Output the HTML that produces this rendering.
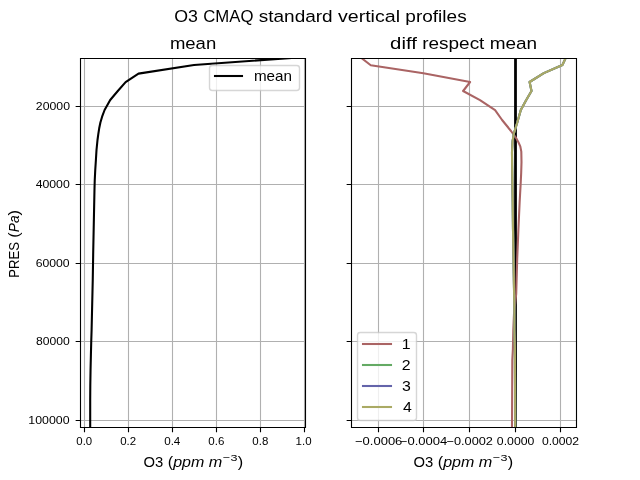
<!DOCTYPE html><html><head><meta charset="utf-8"><style>html,body{margin:0;padding:0;background:#fff;width:640px;height:480px;overflow:hidden;position:relative}</style></head><body><svg width="640" height="480" viewBox="0 0 640 480" style="position:absolute;left:0;top:0;will-change:transform;font-family:'Liberation Sans',sans-serif" fill="#000">
<rect width="640" height="480" fill="#fff"/>
<defs>
<clipPath id="c0"><rect x="80" y="58" width="226" height="370"/></clipPath>
<clipPath id="c1"><rect x="351" y="58" width="226" height="370"/></clipPath>
</defs>
<path d="M84.5,57.6V427.2M128.5,57.6V427.2M172.5,57.6V427.2M216.5,57.6V427.2M260.5,57.6V427.2M304.5,57.6V427.2M80.0,106.5H305.4545M80.0,184.5H305.4545M80.0,263.5H305.4545M80.0,341.5H305.4545M80.0,420.5H305.4545" stroke="#b0b0b0" stroke-width="1.111" fill="none" stroke-linecap="square" clip-path="url(#c0)"/>
<path d="M378.5,57.6V427.2M423.5,57.6V427.2M469.5,57.6V427.2M515.5,57.6V427.2M560.5,57.6V427.2M350.5455,106.5H576.0M350.5455,184.5H576.0M350.5455,263.5H576.0M350.5455,341.5H576.0M350.5455,420.5H576.0" stroke="#b0b0b0" stroke-width="1.111" fill="none" stroke-linecap="square" clip-path="url(#c1)"/>
<polyline points="295.20,57.60 194.00,65.00 138.50,73.60 125.60,82.10 117.80,91.00 110.20,100.00 104.60,110.00 102.10,116.70 100.40,122.50 99.20,128.30 98.30,134.20 97.50,140.00 96.50,150.00 95.90,160.00 95.25,170.00 94.75,180.00 94.50,188.75 93.25,250.00 92.75,280.00 91.60,330.00 91.25,341.00 90.90,355.00 90.55,370.00 90.30,385.00 90.20,400.00 90.20,427.20" fill="none" stroke="#000" stroke-width="2.083" stroke-linejoin="round" stroke-linecap="square" clip-path="url(#c0)"/>
<path d="M515.5,57.6V427.2" stroke="#000" stroke-width="2.778" stroke-linecap="square" clip-path="url(#c1)"/>
<polyline points="360.90,57.60 370.75,65.20 423.40,73.20 470.10,82.00 463.10,91.00 480.00,100.20 495.10,110.20 502.10,120.00 511.00,131.00 516.00,137.80 518.40,142.20 520.30,146.40 521.30,151.60 521.50,162.00 521.20,172.50 520.70,183.00 519.70,201.00 518.40,229.50 517.20,259.00 516.20,294.00 514.00,314.00 513.30,330.00 512.90,349.00 512.30,360.00 512.00,427.20" fill="none" stroke="#aa6464" stroke-width="2.083" stroke-linejoin="round" stroke-linecap="square" clip-path="url(#c1)"/>
<polyline points="565.90,57.60 562.40,65.00 543.80,73.10 529.60,82.00 531.50,91.00 526.10,100.20 520.80,110.00 517.20,122.80 513.80,133.70 512.60,141.20 512.00,152.00 512.10,164.50 512.70,201.00 513.00,229.50 513.50,259.00 514.10,294.00 514.40,314.00 514.40,330.00 514.90,349.00 515.20,427.20" fill="none" stroke="#64aa64" stroke-width="2.083" stroke-linejoin="round" stroke-linecap="square" clip-path="url(#c1)"/>
<polyline points="565.90,57.60 562.40,65.00 543.80,73.10 529.60,82.00 531.50,91.00 526.10,100.20 520.80,110.00 517.20,122.80 513.80,133.70 512.60,141.20 512.00,152.00 512.10,164.50 512.70,201.00 513.00,229.50 513.50,259.00 514.10,294.00 514.40,314.00 514.40,330.00 514.90,349.00 515.20,427.20" fill="none" stroke="#6464aa" stroke-width="2.083" stroke-linejoin="round" stroke-linecap="square" clip-path="url(#c1)"/>
<polyline points="565.90,57.60 562.40,65.00 543.80,73.10 529.60,82.00 531.50,91.00 526.10,100.20 520.80,110.00 517.20,122.80 513.80,133.70 512.60,141.20 512.00,152.00 512.10,164.50 512.70,201.00 513.00,229.50 513.50,259.00 514.10,294.00 514.40,314.00 514.40,330.00 514.90,349.00 515.20,427.20" fill="none" stroke="#aaaa64" stroke-width="2.083" stroke-linejoin="round" stroke-linecap="square" clip-path="url(#c1)"/>
<path d="M80.5,427.5V58.5M305.5,427.5V58.5M80.5,58.5H305.5M80.5,427.5H305.5" stroke="#000" stroke-width="1.111" fill="none" stroke-linecap="square"/>
<path d="M84.5,427.5v4.86M128.5,427.5v4.86M172.5,427.5v4.86M216.5,427.5v4.86M260.5,427.5v4.86M304.5,427.5v4.86M80.5,106.5h-4.86M80.5,184.5h-4.86M80.5,263.5h-4.86M80.5,341.5h-4.86M80.5,420.5h-4.86" stroke="#000" stroke-width="1.111" fill="none"/>
<path d="M351.5,427.5V58.5M576.5,427.5V58.5M351.5,58.5H576.5M351.5,427.5H576.5" stroke="#000" stroke-width="1.111" fill="none" stroke-linecap="square"/>
<path d="M378.5,427.5v4.86M423.5,427.5v4.86M469.5,427.5v4.86M515.5,427.5v4.86M560.5,427.5v4.86M351.5,106.5h-4.86M351.5,184.5h-4.86M351.5,263.5h-4.86M351.5,341.5h-4.86M351.5,420.5h-4.86" stroke="#000" stroke-width="1.111" fill="none"/>
<text x="76.38" y="444.85" font-size="11.33" text-anchor="start" textLength="15.82" lengthAdjust="spacingAndGlyphs" fill="#000">0.0</text>
<text x="120.23" y="445.16" font-size="11.33" text-anchor="start" textLength="15.93" lengthAdjust="spacingAndGlyphs" fill="#000">0.2</text>
<text x="164.17" y="444.59" font-size="11.33" text-anchor="start" textLength="16.19" lengthAdjust="spacingAndGlyphs" fill="#000">0.4</text>
<text x="208.31" y="445.00" font-size="11.33" text-anchor="start" textLength="16.05" lengthAdjust="spacingAndGlyphs" fill="#000">0.6</text>
<text x="252.36" y="444.72" font-size="11.33" text-anchor="start" textLength="15.97" lengthAdjust="spacingAndGlyphs" fill="#000">0.8</text>
<text x="295.55" y="444.56" font-size="11.33" text-anchor="start" textLength="15.97" lengthAdjust="spacingAndGlyphs" fill="#000">1.0</text>
<text x="355.02" y="445.20" font-size="11.33" text-anchor="start" textLength="47.33" lengthAdjust="spacingAndGlyphs" fill="#000">−0.0006</text>
<text x="399.79" y="445.05" font-size="11.33" text-anchor="start" textLength="47.47" lengthAdjust="spacingAndGlyphs" fill="#000">−0.0004</text>
<text x="446.46" y="445.26" font-size="11.33" text-anchor="start" textLength="46.46" lengthAdjust="spacingAndGlyphs" fill="#000">−0.0002</text>
<text x="496.86" y="445.04" font-size="11.33" text-anchor="start" textLength="37.46" lengthAdjust="spacingAndGlyphs" fill="#000">0.0000</text>
<text x="541.91" y="445.13" font-size="11.33" text-anchor="start" textLength="37.19" lengthAdjust="spacingAndGlyphs" fill="#000">0.0002</text>
<text x="35.88" y="109.75" font-size="11.33" text-anchor="start" textLength="34.11" lengthAdjust="spacingAndGlyphs" fill="#000">20000</text>
<text x="35.67" y="188.01" font-size="11.33" text-anchor="start" textLength="34.13" lengthAdjust="spacingAndGlyphs" fill="#000">40000</text>
<text x="35.69" y="266.67" font-size="11.33" text-anchor="start" textLength="33.99" lengthAdjust="spacingAndGlyphs" fill="#000">60000</text>
<text x="35.91" y="345.08" font-size="11.33" text-anchor="start" textLength="33.75" lengthAdjust="spacingAndGlyphs" fill="#000">80000</text>
<text x="28.34" y="423.55" font-size="11.33" text-anchor="start" textLength="41.18" lengthAdjust="spacingAndGlyphs" fill="#000">100000</text>
<text x="174.25" y="21.75" font-size="16.67" text-anchor="start" textLength="23.71" lengthAdjust="spacingAndGlyphs">O3</text><text x="203.26" y="21.75" font-size="16.67" text-anchor="start" textLength="50.22" lengthAdjust="spacingAndGlyphs">CMAQ</text><text x="258.77" y="21.75" font-size="16.67" text-anchor="start" textLength="73.89" lengthAdjust="spacingAndGlyphs">standard</text><text x="337.95" y="21.75" font-size="16.67" text-anchor="start" textLength="62.11" lengthAdjust="spacingAndGlyphs">vertical</text><text x="405.36" y="21.75" font-size="16.67" text-anchor="start" textLength="61.30" lengthAdjust="spacingAndGlyphs">profiles</text>
<text x="169.90" y="48.90" font-size="16.67" text-anchor="start" textLength="46.32" lengthAdjust="spacingAndGlyphs">mean</text>
<text x="390.08" y="48.90" font-size="16.67" text-anchor="start" textLength="26.80" lengthAdjust="spacingAndGlyphs">diff</text><text x="422.20" y="48.90" font-size="16.67" text-anchor="start" textLength="62.20" lengthAdjust="spacingAndGlyphs">respect</text><text x="489.73" y="48.90" font-size="16.67" text-anchor="start" textLength="47.45" lengthAdjust="spacingAndGlyphs">mean</text>
<g fill="#000"><text x="143.60" y="466.55" font-size="14.17" text-anchor="start" textLength="19.77" lengthAdjust="spacingAndGlyphs">O3</text><text x="167.78" y="466.55" font-size="14.17" text-anchor="start" textLength="5.42" lengthAdjust="spacingAndGlyphs">(</text><text x="173.20" y="466.55" font-size="14.17" text-anchor="start" textLength="31.16" lengthAdjust="spacingAndGlyphs" font-style="italic">ppm</text><text x="208.87" y="466.55" font-size="14.17" text-anchor="start" textLength="13.53" lengthAdjust="spacingAndGlyphs" font-style="italic">m</text><text x="223.05" y="461.23" font-size="9.92" text-anchor="start" textLength="14.33" lengthAdjust="spacingAndGlyphs">−3</text><text x="237.76" y="466.55" font-size="14.17" text-anchor="start" textLength="5.42" lengthAdjust="spacingAndGlyphs">)</text></g>
<g fill="#000"><text x="413.60" y="466.55" font-size="14.17" text-anchor="start" textLength="19.77" lengthAdjust="spacingAndGlyphs">O3</text><text x="437.79" y="466.55" font-size="14.17" text-anchor="start" textLength="5.42" lengthAdjust="spacingAndGlyphs">(</text><text x="443.20" y="466.55" font-size="14.17" text-anchor="start" textLength="31.16" lengthAdjust="spacingAndGlyphs" font-style="italic">ppm</text><text x="478.88" y="466.55" font-size="14.17" text-anchor="start" textLength="13.53" lengthAdjust="spacingAndGlyphs" font-style="italic">m</text><text x="493.05" y="461.23" font-size="9.92" text-anchor="start" textLength="14.33" lengthAdjust="spacingAndGlyphs">−3</text><text x="507.76" y="466.55" font-size="14.17" text-anchor="start" textLength="5.42" lengthAdjust="spacingAndGlyphs">)</text></g>
<g transform="translate(18.86 277.72) rotate(-90)" fill="#000">
<text x="0.00" y="0.00" font-size="14.17" text-anchor="start" textLength="35.62" lengthAdjust="spacingAndGlyphs">PRES</text>
<text x="40.03" y="0.00" font-size="14.17" text-anchor="start" textLength="5.42" lengthAdjust="spacingAndGlyphs">(</text>
<text x="45.45" y="0.00" font-size="14.17" text-anchor="start" textLength="16.89" lengthAdjust="spacingAndGlyphs" font-style="italic">Pa</text>
<text x="62.34" y="0.00" font-size="14.17" text-anchor="start" textLength="5.42" lengthAdjust="spacingAndGlyphs">)</text>
</g>
<rect x="209.500" y="65.500" width="90.000" height="25.000" rx="2.778" fill="#fff" stroke="#ccc" stroke-width="1.389" opacity="0.8"/>
<path d="M215,76H242" stroke="#000" stroke-width="2.083" stroke-linecap="square"/>
<text x="253.95" y="80.96" font-size="14.17" text-anchor="start" textLength="38.04" lengthAdjust="spacingAndGlyphs" fill="#000">mean</text>
<rect x="357.500" y="332.500" width="59.000" height="88.000" rx="2.778" fill="#fff" stroke="#ccc" stroke-width="1.389" opacity="0.8"/>
<path d="M363,344H391" stroke="#aa6464" stroke-width="2.083" stroke-linecap="square"/>
<path d="M363,365H391" stroke="#64aa64" stroke-width="2.083" stroke-linecap="square"/>
<path d="M363,386H391" stroke="#6464aa" stroke-width="2.083" stroke-linecap="square"/>
<path d="M363,407H391" stroke="#aaaa64" stroke-width="2.083" stroke-linecap="square"/>
<text x="401.89" y="348.99" font-size="14.17" text-anchor="start" textLength="8.84" lengthAdjust="spacingAndGlyphs" fill="#000">1</text>
<text x="401.80" y="369.51" font-size="14.17" text-anchor="start" textLength="8.84" lengthAdjust="spacingAndGlyphs" fill="#000">2</text>
<text x="401.97" y="391.10" font-size="14.17" text-anchor="start" textLength="8.84" lengthAdjust="spacingAndGlyphs" fill="#000">3</text>
<text x="402.94" y="411.70" font-size="14.17" text-anchor="start" textLength="8.84" lengthAdjust="spacingAndGlyphs" fill="#000">4</text>
</svg></body></html>
